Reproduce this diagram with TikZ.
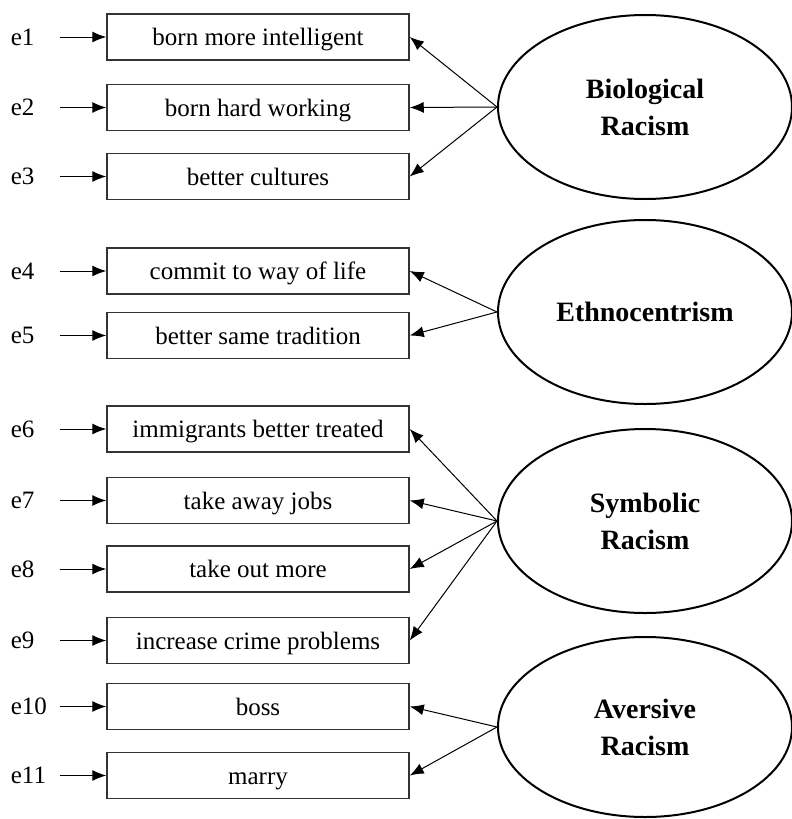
\documentclass[tikz,border=0pt]{standalone}
\usepackage{fontspec}
\setmainfont{Liberation Serif}
\usepackage{tikz}
\usetikzlibrary{arrows.meta, positioning, shapes.geometric}

\begin{document}
\begin{tikzpicture}[
    x=0.5pt, y=-0.5pt,
    node distance=11pt and 23pt,
    item/.style={draw=black!80, line width=0.75pt, minimum width=151pt,
                 minimum height=23pt, inner sep=0pt, text height=9pt,
                 text depth=0.5pt, font=\fontsize{12.5}{15}\selectfont},
    err/.style={text width=24.5pt, inner xsep=0pt, align=left,
                font=\fontsize{12.5}{15}\selectfont},
    lat/.style={draw, ellipse, line width=1pt, minimum width=147pt,
                minimum height=92pt, align=center,
                font=\bfseries\fontsize{14}{18.5}\selectfont},
    arr/.style={-{Latex[length=7pt, width=5.5pt]}, line width=0.5pt},
]
\useasboundingbox (0,0) rectangle (792,819);

\node[item] (i1) at (258,37) {born more intelligent};
\node[item, below=11.5pt of i1] (i2) {born hard working};
\node[item, below=10.75pt of i2] (i3) {better cultures};
\node[item, below=23.5pt of i3] (i4) {commit to way of life};
\node[item, below=8.5pt of i4] (i5) {better same tradition};
\node[item, below=23pt of i5] (i6) {immigrants better treated};
\node[item, below=12pt of i6] (i7) {take away jobs};
\node[item, below=10.5pt of i7] (i8) {take out more};
\node[item, below=12pt of i8] (i9) {increase crime problems};
\node[item, below=9.25pt of i9] (i10) {boss};
\node[item, below=10.75pt of i10] (i11) {marry};

\node[err, left=of i1] (e1) {e1};
\node[err, left=of i2] (e2) {e2};
\node[err, left=of i3] (e3) {e3};
\node[err, left=of i4] (e4) {e4};
\node[err, left=of i5] (e5) {e5};
\node[err, left=of i6] (e6) {e6};
\node[err, left=of i7] (e7) {e7};
\node[err, left=of i8] (e8) {e8};
\node[err, left=of i9] (e9) {e9};
\node[err, left=of i10] (e10) {e10};
\node[err, left=of i11] (e11) {e11};

\node[lat] (bio) at (645,107) {Biological\\Racism};
\node[lat] (eth) at (645,312) {Ethnocentrism};
\node[lat] (sym) at (645,521) {Symbolic\\Racism};
\node[lat, minimum height=90pt] (ave) at (645,727) {Aversive\\Racism};

\draw[arr] (e1) -- (i1);
\draw[arr] (e2) -- (i2);
\draw[arr] (e3) -- (i3);
\draw[arr] (e4) -- (i4);
\draw[arr] (e5) -- (i5);
\draw[arr] (e6) -- (i6);
\draw[arr] (e7) -- (i7);
\draw[arr] (e8) -- (i8);
\draw[arr] (e9) -- (i9);
\draw[arr] (e10) -- (i10);
\draw[arr] (e11) -- (i11);

\draw[arr] (bio.west) -- (i1.east);
\draw[arr] (bio.west) -- (i2.east);
\draw[arr] (bio.west) -- (i3.east);
\draw[arr] (eth.west) -- (i4.east);
\draw[arr] (eth.west) -- (i5.east);
\draw[arr] (sym.west) -- (i6.east);
\draw[arr] (sym.west) -- (i7.east);
\draw[arr] (sym.west) -- (i8.east);
\draw[arr] (sym.west) -- (i9.east);
\draw[arr] (ave.west) -- (i10.east);
\draw[arr] (ave.west) -- (i11.east);

\end{tikzpicture}
\end{document}
